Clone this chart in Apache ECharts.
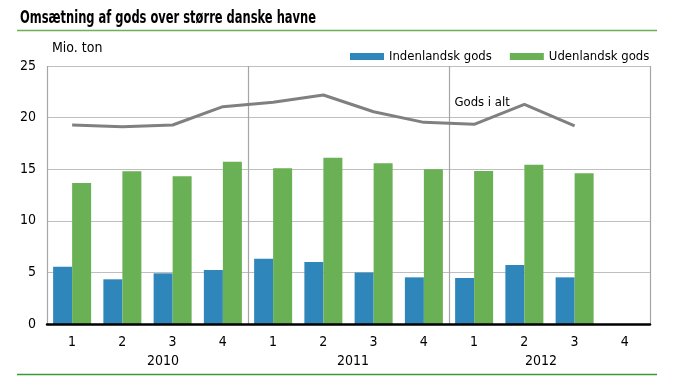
<!DOCTYPE html>
<html>
<head>
<meta charset="utf-8">
<script src="https://cdn.jsdelivr.net/npm/echarts@6/dist/echarts.min.js"></script>
<style>
html,body{margin:0;padding:0;background:#fff;}
#c{width:680px;height:386px;}
</style>
</head>
<body>
<div id="c"></div>
<script>
var quarters = ['1','2','3','4','1','2','3','4','1','2','3','4'];
var years = ['2010','2011','2012'];
var indenlandsk = [5.55, 4.33, 4.91, 5.23, 6.33, 6.0, 5.0, 4.52, 4.46, 5.72, 4.52, null];
var udenlandsk = [13.66, 14.8, 14.31, 15.73, 15.08, 16.12, 15.57, 14.99, 14.83, 15.44, 14.6, null];
var godsIAlt = [19.28, 19.12, 19.28, 21.06, 21.48, 22.19, 20.57, 19.54, 19.35, 21.29, 19.19, null];
var yTicks = [0, 5, 10, 15, 20, 25];
var titleText = 'Omsætning af gods over større danske havne';

var FONT = "'Liberation Sans Narrow', 'DejaVu Sans Condensed', 'Open Sans', sans-serif";

// horizontal squeeze so the title spans the same width as in the reference
var cv = document.createElement('canvas').getContext('2d');
cv.font = 'bold 18px ' + FONT;
var titleScale = Math.min(1, 296 / cv.measureText(titleText).width);

var lineData = godsIAlt.map(function (v, i) {
  if (i === 8) {
    return { value: v, label: { show: true, formatter: 'Gods i alt', position: 'top', distance: 15, offset: [8, 0], color: '#000', fontSize: 13, fontFamily: FONT } };
  }
  return v;
});

var chart = echarts.init(document.getElementById('c'));
chart.setOption({
  animation: false,
  backgroundColor: '#fff',
  textStyle: { fontFamily: FONT },
  graphic: [
    { type: 'text', x: 20, y: 18.5, scaleX: titleScale, style: { text: titleText, font: 'bold 18px ' + FONT, fill: '#000', textVerticalAlign: 'middle', textAlign: 'left' } },
    { type: 'line', shape: { x1: 17, y1: 30.5, x2: 657, y2: 30.5 }, style: { stroke: '#6ab155', lineWidth: 1.5 } },
    { type: 'line', shape: { x1: 17, y1: 374.5, x2: 657, y2: 374.5 }, style: { stroke: '#3a9a3a', lineWidth: 1.5 } }
  ],
  legend: {
    left: 345, top: 45, width: 330,
    orient: 'horizontal',
    itemWidth: 34, itemHeight: 7, itemGap: 18,
    icon: 'rect',
    textStyle: { fontFamily: FONT, fontSize: 13, color: '#000' },
    data: ['Indenlandsk gods', 'Udenlandsk gods']
  },
  grid: { left: 47, right: 30, top: 66, bottom: 62, containLabel: false },
  xAxis: [
    {
      type: 'category', data: quarters, position: 'bottom',
      axisLine: { show: true, onZero: false, lineStyle: { color: '#000', width: 2.5 } },
      axisTick: { show: false },
      axisLabel: { margin: 11, fontSize: 14, color: '#000', fontFamily: FONT },
      splitLine: { show: false },
      z: 5
    },
    {
      type: 'category', data: years, position: 'bottom',
      axisLine: { show: false },
      axisTick: { show: false },
      axisLabel: {
        margin: 30, fontSize: 14, color: '#000', fontFamily: FONT,
        formatter: function (v, i) { return '{y' + i + '|' + v + '}'; },
        rich: {
          y0: { fontSize: 14, fontFamily: FONT, color: '#000', padding: [0, 0, 0, 31] },
          y1: { fontSize: 14, fontFamily: FONT, color: '#000', padding: [0, 0, 0, 9] },
          y2: { fontSize: 14, fontFamily: FONT, color: '#000', padding: [0, 17, 0, 0] }
        }
      },
      splitLine: { show: true, lineStyle: { color: '#a6a6a6', width: 1.2 } }
    }
  ],
  yAxis: {
    type: 'value', min: yTicks[0], max: yTicks[yTicks.length - 1], interval: 5,
    name: 'Mio. ton', nameLocation: 'end', nameGap: 11,
    nameTextStyle: { align: 'left', fontSize: 14, color: '#000', fontFamily: FONT, padding: [0, 0, 0, 5] },
    axisLine: { show: false },
    axisTick: { show: false },
    axisLabel: { margin: 11, fontSize: 14, color: '#000', fontFamily: FONT },
    splitLine: { show: true, lineStyle: { color: '#bfbfbf', width: 1.2 } }
  },
  series: [
    {
      name: 'Indenlandsk gods', type: 'bar', xAxisIndex: 0, data: indenlandsk,
      barWidth: 19, barGap: '0%',
      itemStyle: { color: '#2f86ba' }
    },
    {
      name: 'Udenlandsk gods', type: 'bar', xAxisIndex: 0, data: udenlandsk,
      barWidth: 19, barGap: '0%',
      itemStyle: { color: '#6ab155' }
    },
    {
      name: 'Gods i alt', type: 'line', xAxisIndex: 0, data: lineData,
      symbol: 'circle', symbolSize: 0, showSymbol: true,
      lineStyle: { color: '#808080', width: 3 },
      itemStyle: { color: '#808080' }, z: 4
    }
  ]
});
</script>
</body>
</html>
